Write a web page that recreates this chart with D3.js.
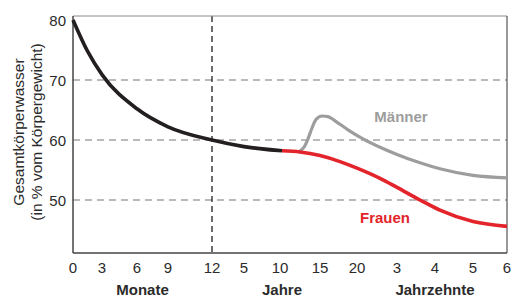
<!DOCTYPE html>
<html>
<head>
<meta charset="utf-8">
<title>Gesamtkörperwasser</title>
<script src="https://d3js.org/d3.v7.min.js"></script>
<style>
  body { margin: 0; background: #fff; }
  svg text { font-family: "Liberation Sans", Arial, Helvetica, sans-serif; }
</style>
</head>
<body>
<script>
// x values are ages in years (months and decades are mapped onto them)
const tickAges = [0, 0.25, 0.5, 0.75, 1, 5, 10, 15, 20, 30, 40, 50, 60];
const tickLabels = ["0", "3", "6", "9", "12", "5", "10", "15", "20", "3", "4", "5", "6"];
const yTicks = [50, 60, 70, 80];

const kindAges = [0, 0.125, 0.25, 0.5, 0.75, 1, 5, 10.25];
const kindWater = [80, 74.8, 70.9, 65.2, 62.2, 60, 58.9, 58.2];

const maennerAges = [12.5, 13, 13.5, 14, 14.5, 15.27, 16.08, 17.03, 18.78, 21.5, 25.75, 30, 36.05, 41.3, 50, 60];
const maennerWater = [58.2, 58.8, 60.2, 62.0, 63.4, 64.0, 63.9, 63.2, 61.7, 60.2, 58.8, 57.6, 56.2, 55.2, 54.1, 53.7];

const frauenAges = [10.25, 12.5, 15, 17.7, 20, 25.75, 30, 36.05, 41.3, 50, 60];
const frauenWater = [58.2, 58.0, 57.4, 56.4, 55.3, 53.6, 52.1, 50.0, 48.3, 46.4, 45.6];

const groups = [
    { label: "Monate", from: 0, to: 1 },
    { label: "Jahre", from: 5, to: 15 },
    { label: "Jahrzehnte", from: 30, to: 50 }
];

const width = 511, height = 299;
const plotLeft = 73, plotRight = 507, plotTop = 16, plotBottom = 253;

// piecewise axis: offsets of each tick from the left edge of the plot
const xStops = [0, 29, 64, 95, 139, 171, 207, 247, 284, 324, 362, 400, 434];
const x = d3.scaleLinear()
    .domain(tickAges)
    .range(xStops.map(d => plotLeft + d));

const y = d3.scaleLinear()
    .domain([50, 80])
    .range([200, 20]);

const svg = d3.select("body").append("svg")
    .attr("width", width)
    .attr("height", height);

// horizontal dashed grid
svg.append("g")
    .selectAll("line")
    .data(yTicks.filter(d => d < 80))
    .enter()
    .append("line")
    .attr("x1", plotLeft).attr("x2", plotRight)
    .attr("y1", d => y(d)).attr("y2", d => y(d))
    .attr("stroke", "#777")
    .attr("stroke-width", 1.2)
    .attr("stroke-dasharray", "7,5");

// vertical dashed line at 12 months
svg.append("line")
    .attr("x1", x(1)).attr("x2", x(1))
    .attr("y1", plotTop).attr("y2", plotBottom)
    .attr("stroke", "#1e1e1e")
    .attr("stroke-width", 1.3)
    .attr("stroke-dasharray", "6,4");

// frame
svg.append("line").attr("x1", plotLeft).attr("x2", plotRight).attr("y1", plotTop).attr("y2", plotTop)
    .attr("stroke", "#8a8a8a").attr("stroke-width", 1);
svg.append("line").attr("x1", plotRight).attr("x2", plotRight).attr("y1", plotTop).attr("y2", plotBottom)
    .attr("stroke", "#555").attr("stroke-width", 1.2);
svg.append("line").attr("x1", plotLeft).attr("x2", plotLeft).attr("y1", plotTop).attr("y2", plotBottom)
    .attr("stroke", "#444").attr("stroke-width", 1.5);
svg.append("line").attr("x1", plotLeft).attr("x2", plotRight).attr("y1", plotBottom).attr("y2", plotBottom)
    .attr("stroke", "#444").attr("stroke-width", 1.5);

const line = d3.line()
    .x(d => x(d[0]))
    .y(d => y(d[1]))
    .curve(d3.curveMonotoneX);

const series = [
    { ages: maennerAges, water: maennerWater, color: "#9d9d9d", w: 3.2 },
    { ages: frauenAges, water: frauenWater, color: "#e3242b", w: 3.6 },
    { ages: kindAges, water: kindWater, color: "#231f20", w: 3.6 }
];

svg.append("g")
    .selectAll("path")
    .data(series)
    .enter()
    .append("path")
    .attr("d", s => line(s.ages.map((a, i) => [a, s.water[i]])))
    .attr("fill", "none")
    .attr("stroke", s => s.color)
    .attr("stroke-width", s => s.w)
    .attr("stroke-linecap", "butt");

// y tick labels
svg.append("g")
    .selectAll("text")
    .data(yTicks)
    .enter()
    .append("text")
    .attr("x", 66)
    .attr("y", d => y(d) + 5.5)
    .attr("text-anchor", "end")
    .attr("font-size", "15px")
    .attr("fill", "#2b2b2b")
    .text(d => d);

// x tick labels
svg.append("g")
    .selectAll("text")
    .data(tickAges)
    .enter()
    .append("text")
    .attr("x", d => x(d))
    .attr("y", 273)
    .attr("text-anchor", "middle")
    .attr("font-size", "15px")
    .attr("fill", "#2b2b2b")
    .text((d, i) => tickLabels[i]);

// unit labels under the ticks
svg.append("g")
    .selectAll("text")
    .data(groups)
    .enter()
    .append("text")
    .attr("x", d => (x(d.from) + x(d.to)) / 2)
    .attr("y", 295)
    .attr("text-anchor", "middle")
    .attr("font-size", "15px")
    .attr("font-weight", "bold")
    .attr("fill", "#2b2b2b")
    .text(d => d.label);

// y title
const yTitle = svg.append("text")
    .attr("transform", "translate(0,132) rotate(-90)")
    .attr("text-anchor", "middle")
    .attr("font-size", "15.5px")
    .attr("fill", "#2b2b2b");
yTitle.append("tspan").attr("x", 0).attr("y", 24).text("Gesamtkörperwasser");
yTitle.append("tspan").attr("x", 0).attr("y", 42).text("(in % vom Körpergewicht)");

// series labels
svg.append("text")
    .attr("x", 401).attr("y", 122)
    .attr("text-anchor", "middle")
    .attr("font-size", "15px")
    .attr("font-weight", "bold")
    .attr("fill", "#9d9d9d")
    .text("Männer");

svg.append("text")
    .attr("x", 385).attr("y", 223)
    .attr("text-anchor", "middle")
    .attr("font-size", "15px")
    .attr("font-weight", "bold")
    .attr("fill", "#e3242b")
    .text("Frauen");
</script>
</body>
</html>
